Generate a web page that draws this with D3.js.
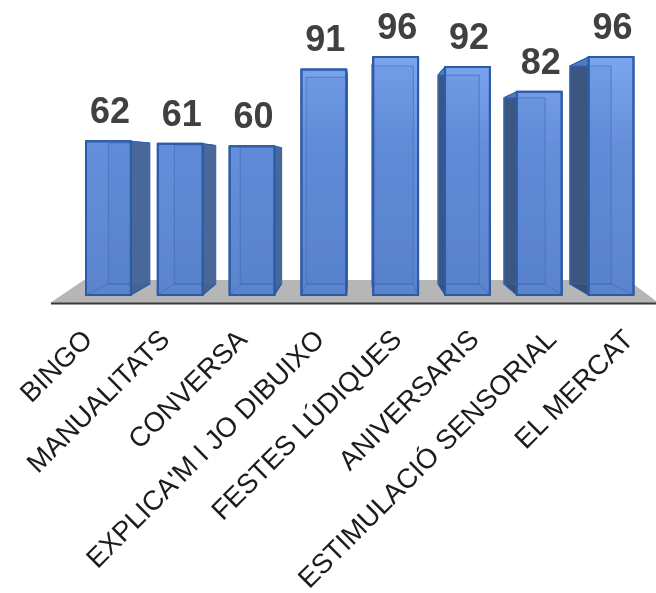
<!DOCTYPE html>
<html><head><meta charset="utf-8">
<script src="https://cdn.jsdelivr.net/npm/d3@7"></script>
<style>html,body{margin:0;padding:0;background:#fff}svg{display:block}</style>
</head><body><svg id="c" width="656" height="593"></svg>
<script>
const categories = ["BINGO","MANUALITATS","CONVERSA","EXPLICA'M I JO DIBUIXO","FESTES LÚDIQUES","ANIVERSARIS","ESTIMULACIÓ SENSORIAL","EL MERCAT"];
const values = [62,61,60,91,96,92,82,96];

const svg = d3.select("#c");
const x = d3.scaleBand().domain(categories).range([86,633.5]).paddingInner(0.375).paddingOuter(0);
const xLabel = d3.scalePoint().domain(categories).range([94,635]);
const yF = d3.scaleLinear().domain([0,96]).range([295,57]);
const yB = d3.scaleLinear().domain([0,96]).range([284,66]);
const xB = d3.scaleLinear().domain([0,720]).range([360-360*0.918,360+360*0.918]);

const defs = svg.append("defs");
const g1 = defs.append("linearGradient").attr("id","front").attr("gradientUnits","userSpaceOnUse")
  .attr("x1",0).attr("y1",60).attr("x2",0).attr("y2",295);
g1.append("stop").attr("offset",0).attr("stop-color","#7ba5ee");
g1.append("stop").attr("offset",0.35).attr("stop-color","#668fdb");
g1.append("stop").attr("offset",1).attr("stop-color","#5a84cc");
defs.append("filter").attr("id","soft").append("feGaussianBlur").attr("stdDeviation",0.5);
defs.append("filter").attr("id","softT").append("feGaussianBlur").attr("stdDeviation",0.35);

const root = svg.append("g").attr("filter","url(#soft)");
const line = d3.line();

// floor
root.append("path").attr("fill","#b6b6b6")
  .attr("d", line([[50,303],[84,280],[628,280],[656,301],[656,303]])+"Z");
root.append("line").attr("x1",51).attr("x2",656).attr("y1",303.5).attr("y2",303.5)
  .attr("stroke","#3a3a3a").attr("stroke-width",2);

const rows = categories.map((c,i)=>({c,v:values[i]}));
const bars = root.selectAll("g.bar").data(rows).join("g").attr("class","bar");
const stroke = "#2c5ca8";

bars.each(function(d){
  const g = d3.select(this);
  const l=x(d.c), r=l+x.bandwidth(), tF=yF(d.v), bF=yF(0), tB=yB(d.v), bB=yB(0);
  const lB=xB(l), rB=xB(r);
  const poly=(pts,fill,op,sw)=>g.append("path").attr("d",line(pts)+"Z").attr("fill",fill).attr("fill-opacity",op)
    .attr("stroke",stroke).attr("stroke-width",sw).attr("stroke-linejoin","round");
  // visible side faces
  if(rB>r) poly([[r,tF],[rB,tB],[rB,bB],[r,bF]],"#47648f",1,1.2);
  if(lB<l) poly([[l,tF],[lB,tB],[lB,bB],[l,bF]],"#3a4f70",1,1.2);
  // top of the box
  poly([[l,tF],[r,tF],[rB,tB],[lB,tB]],"#4f7cc8",1,1);
  // front face
  poly([[l,tF],[r,tF],[r,bF],[l,bF]],"url(#front)",1,2);
  // edges of the back wall, seen through the front
  g.append("path").attr("d",line([[lB,tB],[lB,bB],[rB,bB],[rB,tB]])+"Z")
    .attr("fill","#4f7cc8").attr("fill-opacity",0.18).attr("stroke","#3f6fc0").attr("stroke-opacity",0.6).attr("stroke-width",1.2);
  g.append("path").attr("d",line([[l,bF],[lB,bB],[rB,bB],[r,bF]])).attr("fill","none").attr("stroke",stroke).attr("stroke-opacity",0.35).attr("stroke-width",1);
  g.append("path").attr("d",line([[l,tF],[r,tF],[r,bF],[l,bF]])+"Z").attr("fill","none").attr("stroke",stroke).attr("stroke-width",2);
});

const texts = svg.append("g").attr("filter","url(#softT)");
// value labels
texts.selectAll("text.v").data(rows).join("text").attr("class","v")
  .attr("x",d=>x(d.c)+x.bandwidth()/2+1.5)
  .attr("y",d=>yF(d.v)-18)
  .attr("text-anchor","middle")
  .attr("font-family","'Liberation Sans',Arial,sans-serif").attr("font-weight","bold").attr("font-size",36)
  .attr("fill","#404040").text(d=>d.v);

// category labels
texts.selectAll("text.c").data(categories).join("text").attr("class","c")
  .attr("text-anchor","end")
  .attr("transform",d=>`translate(${xLabel(d)},${341}) rotate(-45)`)
  .attr("font-family","'Liberation Sans',Arial,sans-serif").attr("font-size",27.5)
  .attr("fill","#1a1a1a").text(d=>d);
</script></body></html>
